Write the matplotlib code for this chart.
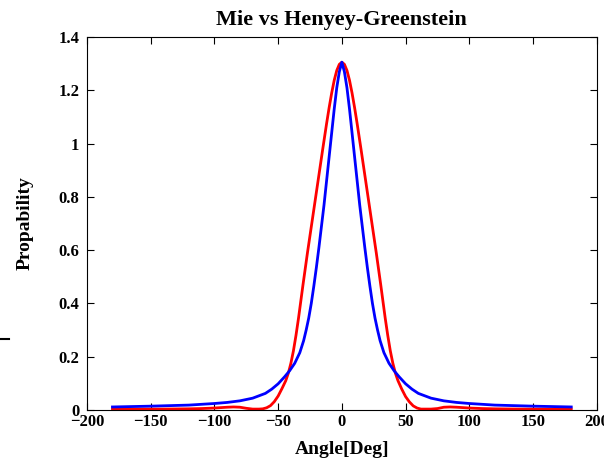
# Mie vs Henyey-Greenstein phase function

import matplotlib
matplotlib.use('Agg')
import matplotlib.pyplot as plt
from matplotlib.lines import Line2D
from matplotlib.ticker import FormatStrFormatter

plt.rcdefaults()
plt.rcParams['font.family'] = ['Liberation Serif', 'DejaVu Serif']
plt.rcParams['font.weight'] = 'bold'

# Mie (red)
mie_angle = [-180, -160, -140, -120, -110, -100, -90, -85, -80, -75, -70, -65,
             -62, -59, -56, -53, -50, -47, -44, -42, -40, -38, -36, -34, -30.5,
             -27, -23, -19, -15, -12, -10, -8, -6, -4, -2, 0,
             2, 4, 6, 8, 10, 12, 15, 19, 23, 27, 30.5, 34, 36, 38, 40, 42,
             44, 47, 50, 53, 56, 59, 62, 65, 70, 75, 80, 85, 90, 100, 110, 120,
             140, 160, 180]
mie_value = [0.003, 0.003, 0.003, 0.004, 0.005, 0.007, 0.010, 0.011, 0.010, 0.006, 0.003, 0.003,
             0.004, 0.008, 0.016, 0.031, 0.052, 0.08, 0.11, 0.138, 0.175, 0.222, 0.28, 0.345, 0.47,
             0.59, 0.72, 0.85, 0.98, 1.075, 1.135, 1.19, 1.238, 1.275, 1.298, 1.306,
             1.298, 1.275, 1.238, 1.19, 1.135, 1.075, 0.98, 0.85, 0.72, 0.59, 0.47, 0.345, 0.28, 0.222, 0.175, 0.138,
             0.11, 0.078, 0.05, 0.03, 0.015, 0.007, 0.003, 0.003, 0.003, 0.005, 0.010, 0.011, 0.010, 0.007, 0.005, 0.004,
             0.003, 0.003, 0.003]

# Henyey-Greenstein (blue)
hg_angle = [-180, -150, -120, -100, -90, -80, -70, -60, -55, -50, -45, -41, -37, -33,
            -30, -28, -26, -24, -22, -20, -18, -16, -14, -12, -10, -8, -6, -4, -2, 0,
            2, 4, 6, 8, 10, 12, 14, 16, 18, 20, 22, 24, 26, 28, 30,
            33, 37, 41, 45, 50, 55, 60, 70, 80, 90, 100, 120, 150, 180]
hg_value = [0.011, 0.014, 0.018, 0.024, 0.028, 0.034, 0.044, 0.062, 0.078, 0.098, 0.124, 0.147, 0.175, 0.215,
            0.26, 0.30, 0.345, 0.40, 0.465, 0.535, 0.61, 0.69, 0.77, 0.86, 0.95, 1.04, 1.13, 1.21, 1.27, 1.306,
            1.27, 1.21, 1.13, 1.04, 0.95, 0.86, 0.77, 0.69, 0.61, 0.535, 0.465, 0.40, 0.345, 0.30, 0.26,
            0.215, 0.175, 0.147, 0.124, 0.098, 0.078, 0.062, 0.044, 0.034, 0.028, 0.024, 0.018, 0.014, 0.011]

x_ticks = [-200, -150, -100, -50, 0, 50, 100, 150, 200]
y_ticks = [0, 0.2, 0.4, 0.6, 0.8, 1, 1.2, 1.4]

fig = plt.figure(figsize=(6.04, 4.59), dpi=100)
ax = fig.add_axes([0.144, 0.107, 0.844, 0.812])

ax.plot(mie_angle, mie_value, color='#ff0000', lw=2)
ax.plot(hg_angle, hg_value, color='#0000ff', lw=2)

ax.set_xlim(-200, 200)
ax.set_ylim(0, 1.4)
ax.set_xticks(x_ticks)
ax.set_yticks(y_ticks)
ax.yaxis.set_major_formatter(FormatStrFormatter('%g'))
ax.tick_params(direction='in', top=True, right=True, length=5, width=0.8,
               labelsize=12)
ax.tick_params(axis='x', pad=3)
ax.tick_params(axis='y', pad=5.5)

ax.set_title('Mie vs Henyey-Greenstein', fontsize=16, fontweight='bold', pad=9)
ax.set_xlabel('Angle[Deg]', fontsize=14, fontweight='bold', labelpad=8)
ax.set_ylabel('Propability', fontsize=14, fontweight='bold', labelpad=18)

# small stray mark on the left edge
fig.add_artist(Line2D([0.0, 0.015], [0.261, 0.261], color='black', lw=1.5))

fig.savefig('out.png', dpi=100)
